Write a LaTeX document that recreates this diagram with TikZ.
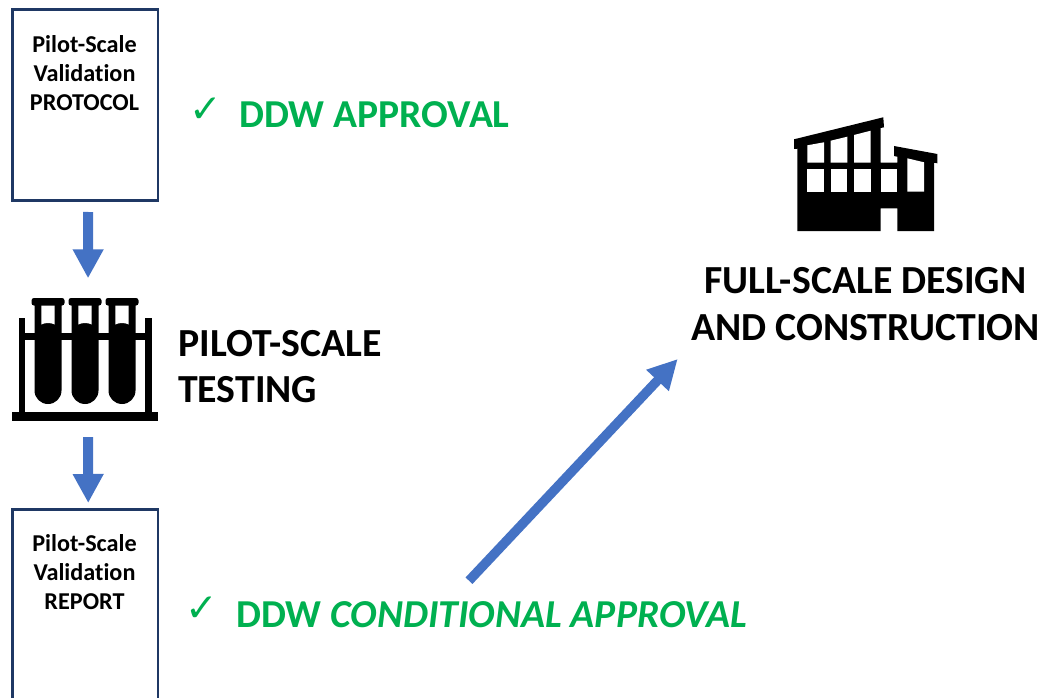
\documentclass[tikz,border=0pt]{standalone}
\usepackage{fontspec}
\setmainfont[Ligatures=NoCommon]{Carlito}
\newfontfamily\symfont{DejaVu Sans}
\usetikzlibrary{arrows.meta}
\definecolor{boxedge}{HTML}{1F3864}
\definecolor{flowblue}{HTML}{4472C4}
\definecolor{okgreen}{HTML}{00B050}
\tikzset{
  docbox/.style={draw=boxedge,line width=2.5pt,fill=white,minimum width=145.5pt,inner sep=0pt,outer sep=0pt,anchor=north west},
  doclabel/.style={font=\fontsize{24.2}{29}\selectfont\bfseries,align=center,anchor=base,inner sep=0pt,text=black},
  headline/.style={font=\fontsize{39.8}{47}\selectfont\bfseries,inner sep=0pt,text=black},
  greenline/.style={font=\fontsize{39.6}{40}\selectfont\bfseries,text=okgreen,inner sep=0pt,anchor=base west},
  tick/.style={font=\symfont\fontsize{39}{39}\selectfont,text=okgreen,inner sep=0pt,anchor=center},
  flowsmall/.style={draw=flowblue,line width=10pt,-{Triangle[length=29pt,width=29pt]}},
  flowbig/.style={draw=flowblue,line width=9.5pt,-{Triangle[length=29.5pt,width=29pt]}},
  iconink/.style={fill=black,draw=none},
  iconhole/.style={fill=white,draw=none},
  hidden/.style={inner sep=0pt,draw=none}
}
\begin{document}
\begin{tikzpicture}[x=1pt,y=-1pt]
\useasboundingbox (0,0) rectangle (1042,698);
% documents
\node[docbox,minimum height=190.8pt] (protocol) at (12.5,9.7) {};
\node[docbox,minimum height=230pt] (report) at (12.5,509.5) {};
\node[doclabel] (protocoltextA) at (84.5,52.6) {Pilot-Scale};
\node[doclabel] (protocoltextB) at (84.5,81.6) {Validation};
\node[doclabel] (protocoltextC) at (84.5,110.6) {PROTOCOL};
\node[doclabel] (reporttextA) at (84.5,551.6) {Pilot-Scale};
\node[doclabel] (reporttextB) at (84.5,580.6) {Validation};
\node[doclabel] (reporttextC) at (84.5,609.6) {REPORT};
% test-tube icon
\node[hidden,minimum width=146pt,minimum height=124pt] (tubes) at (85,359) {};
\fill[iconink] (12,411.5) rectangle (158,421);
\fill[iconink] (18.5,318) rectangle (25,412);
\fill[iconink] (145,318) rectangle (152,412);
\fill[iconink] (25,333) rectangle (145,339.5);
\foreach \cx in {48,85,122}{
  \fill[iconink,rounded corners=2.5pt] (\cx-16.5,298) rectangle (\cx+16.5,305.5);
  \fill[iconink] (\cx-13.5,302) -- (\cx+13.5,302) -- (\cx+13.5,390.5) arc[start angle=0,end angle=180,radius=13.5pt,y radius=-13.5pt] -- cycle;
  \fill[iconhole] (\cx-6.7,305.5) -- (\cx+6.7,305.5) -- (\cx+6.7,324.5) .. controls (\cx+3,322.5) and (\cx-3,322.5) .. (\cx-6.7,324.5) -- cycle;
}
% building icon
\node[hidden,minimum width=144pt,minimum height=114pt] (plant) at (866,174) {};
\fill[iconink] (794,139.3) -- (883.3,117.3) -- (884,127.3) -- (880.7,128) -- (880.7,162.7) -- (897.3,162.7) -- (897.3,156.7) -- (894,156) -- (894,146) -- (937.3,154) -- (937.3,163.3) -- (934,162.7) -- (934,231) -- (897.3,231) -- (897.3,208.3) -- (880.7,208.3) -- (880.7,231) -- (797.3,231) -- (797.3,148.7) -- (794,149) -- cycle;
\fill[iconhole] (807.3,145.3) -- (824,142.3) -- (824,162.7) -- (807.3,162.7) -- cycle;
\fill[iconhole] (830.7,140.7) -- (847.3,136.7) -- (847.3,162.7) -- (830.7,162.7) -- cycle;
\fill[iconhole] (854,135) -- (870.7,130.7) -- (870.7,162.7) -- (854,162.7) -- cycle;
\foreach \wx in {807.3,830.7,854,880.7}{
  \fill[iconhole] (\wx,169.3) rectangle (\wx+16.6,191.7);
}
\fill[iconhole] (907.3,158.3) -- (924,162.3) -- (924,191.7) -- (907.3,191.7) -- cycle;
% texts
\node[headline,anchor=base west] (pilot) at (178,356) {PILOT-SCALE};
\node[headline,anchor=base west] (testing) at (178,402.5) {TESTING};
\node[headline,anchor=base] (fullone) at (865.5,293) {FULL-SCALE DESIGN};
\node[headline,anchor=base] (fulltwo) at (865.5,340) {AND CONSTRUCTION};
\node[tick] (tickone) at (205.5,110.5) {✓};
\node[greenline] (approved) at (239,128) {DDW APPROVAL};
\node[tick] (ticktwo) at (202,609) {✓};
\node[greenline] (conditional) at (236,627) {DDW \textit{CONDITIONAL APPROVAL}};
% connectors
\draw[flowsmall,shorten <=11.5pt,shorten >=18.5pt] ([xshift=3pt]protocol.south) -- ([xshift=3pt]tubes.north);
\draw[flowsmall,shorten <=16pt,shorten >=6.5pt] ([xshift=3pt]tubes.south) -- ([xshift=3pt]report.north);
\coordinate (bigstart) at (469,580.7);
\coordinate (bigend) at (677.7,359);
\draw[flowbig] (bigstart) -- (bigend);
\end{tikzpicture}
\end{document}
